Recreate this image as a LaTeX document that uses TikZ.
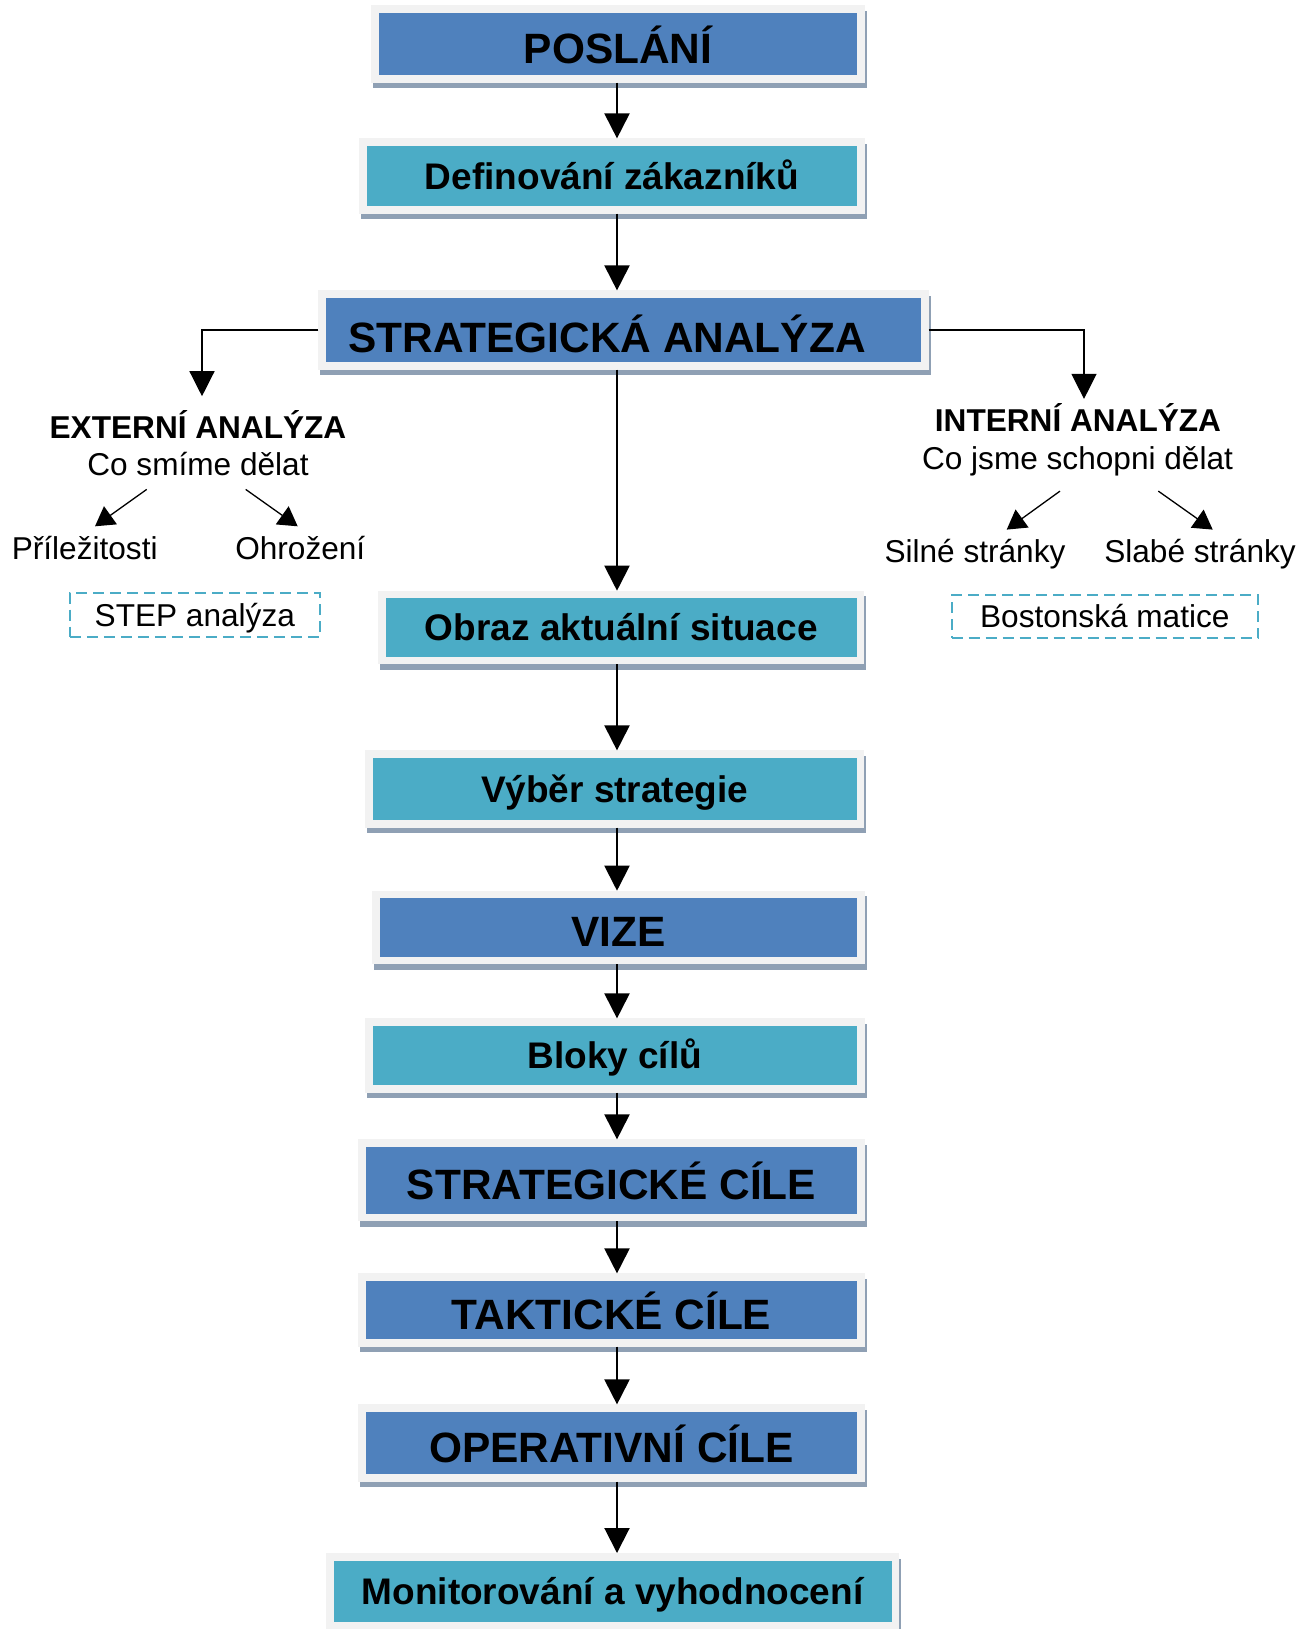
\documentclass[tikz,border=0pt]{standalone}
\usepackage{fontspec}
\setmainfont{Liberation Sans}
\usetikzlibrary{arrows.meta,shadows}
\definecolor{darkbox}{RGB}{79,129,189}
\definecolor{lightbox}{RGB}{75,172,198}
\definecolor{framegray}{RGB}{242,242,242}
\definecolor{shadowgray}{RGB}{143,160,180}
\begin{document}
\begin{tikzpicture}[x=0.5pt,y=-0.5pt,
	box/.style={rectangle,draw=framegray,line width=3.8pt,inner sep=0pt,
		general shadow={draw=shadowgray,fill=shadowgray,shadow xshift=1pt,shadow yshift=-2.85pt}},
	dark/.style={box,fill=darkbox,text height=23.7pt,text depth=4.5pt,
		font=\bfseries\fontsize{21.2pt}{25pt}\selectfont},
	light/.style={box,fill=lightbox,text height=17.2pt,text depth=4pt,
		font=\bfseries\fontsize{18.5pt}{22pt}\selectfont},
	side/.style={inner sep=0pt,text height=11.5pt,text depth=3.3pt,
		font=\fontsize{15.8pt}{18.7pt}\selectfont},
	head/.style={side,font=\bfseries\fontsize{15.8pt}{18.7pt}\selectfont},
	tool/.style={side,text height=14.5pt,draw=lightbox,line width=1.1pt,dash pattern=on 5.5pt off 3pt},
	arr/.style={-{Triangle[length=12.5pt,width=12.5pt]},line width=1pt},
	branch/.style={-{Triangle[length=12.5pt,width=12.5pt]},line width=0.65pt},
	sub/.style={-{Triangle[length=9.5pt,width=11pt]},line width=0.65pt}]
\useasboundingbox (0,0) rectangle (1306,1629);
\coordinate (spine) at (617,0);
\node[dark,minimum width=242.8pt,minimum height=34.8pt] (poslani) at (618,44) {POSLÁNÍ};
\node[light,minimum width=248.8pt,minimum height=33.8pt] (zakaznici) at (612,176) {Definování zákazníků};
\node[dark,minimum width=301.3pt,minimum height=35.8pt,text height=26.7pt] (strat) at (623.5,330) {STRATEGICKÁ ANALÝZA\hspace*{16.5pt}};
\node[light,minimum width=239.15pt,minimum height=33pt] (obraz) at (621.3,627.5) {Obraz aktuální situace};
\node[light,minimum width=245.8pt,minimum height=34.8pt] (vyber) at (614.7,789) {Výběr strategie};
\node[dark,minimum width=242.3pt,minimum height=33pt] (vize) at (618.5,927.5) {VIZE};
\node[light,minimum width=246pt,minimum height=33.3pt] (bloky) at (614.8,1055.5) {Bloky cílů};
\node[dark,minimum width=249.3pt,minimum height=37.1pt] (strcile) at (611.5,1180.3) {STRATEGICKÉ CÍLE};
\node[dark,minimum width=249.3pt,minimum height=32.8pt] (taktcile) at (611.5,1310) {TAKTICKÉ CÍLE};
\node[dark,minimum width=249.3pt,minimum height=34.8pt] (opercile) at (611.5,1443) {OPERATIVNÍ CÍLE};
\node[light,minimum width=282.8pt,minimum height=34.5pt] (monitor) at (612.5,1591.3) {Monitorování a vyhodnocení};

\node[head,anchor=base] (externi) at (198,438) {EXTERNÍ ANALÝZA};
\node[side,anchor=base] (smime) at (198,475) {Co smíme dělat};
\node[side,anchor=base] (prilez) at (84.7,559.7) {Příležitosti};
\node[side,anchor=base] (ohrozeni) at (300.3,559.7) {Ohrožení};
\node[tool,minimum width=124.85pt,minimum height=22.3pt] (step) at (194.8,615) {STEP analýza};

\node[head,anchor=base] (interni) at (1078,431.7) {INTERNÍ ANALÝZA};
\node[side,anchor=base] (schopni) at (1077.5,469.3) {Co jsme schopni dělat};
\node[side,anchor=base] (silne) at (975,562.7) {Silné stránky};
\node[side,anchor=base] (slabe) at (1200,562.7) {Slabé stránky};
\node[tool,minimum width=153.15pt,minimum height=21.65pt] (boston) at (1104.8,616.7) {Bostonská matice};

\draw[arr] (poslani.south -| spine) -- (zakaznici.north -| spine);
\draw[arr] (zakaznici.south -| spine) -- (strat.north -| spine);
\draw[arr] (strat.south -| spine) -- (obraz.north -| spine);
\draw[arr] (obraz.south -| spine) -- (vyber.north -| spine);
\draw[arr] (vyber.south -| spine) -- (vize.north -| spine);
\draw[arr] (vize.south -| spine) -- (bloky.north -| spine);
\draw[arr] (bloky.south -| spine) -- (strcile.north -| spine);
\draw[arr] (strcile.south -| spine) -- (taktcile.north -| spine);
\draw[arr] (taktcile.south -| spine) -- (opercile.north -| spine);
\draw[arr] (opercile.south -| spine) -- (monitor.north -| spine);

\draw[branch] (strat.west) -| ([xshift=2pt,yshift=9.2pt]externi.north);
\draw[branch] (strat.east) -| ([xshift=3pt,yshift=4.7pt]interni.north);

\draw[sub] ([xshift=-25.65pt,yshift=-3.7pt]smime.south) -- ([xshift=5.15pt,yshift=5pt]prilez.north);
\draw[sub] ([xshift=23.85pt,yshift=-3.7pt]smime.south) -- ([xshift=-1.3pt,yshift=5pt]ohrozeni.north);
\draw[sub] ([xshift=-8.75pt,yshift=-7.4pt]schopni.south) -- ([xshift=15.85pt,yshift=4.85pt]silne.north);
\draw[sub] ([xshift=40.4pt,yshift=-7.4pt]schopni.south) -- ([xshift=6.35pt,yshift=4.85pt]slabe.north);
\end{tikzpicture}
\end{document}
